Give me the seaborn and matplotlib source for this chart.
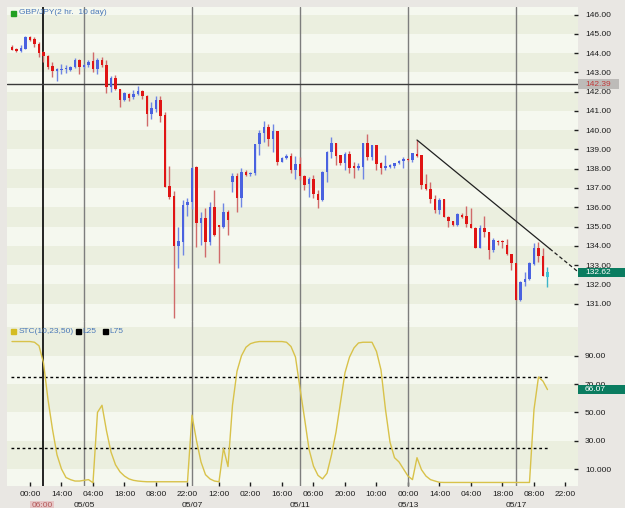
import numpy as np
import pandas as pd
import matplotlib
matplotlib.use("Agg")
import matplotlib.pyplot as plt
import matplotlib.transforms as mtransforms
from matplotlib.patches import Rectangle
import seaborn as sns

# GBP/JPY 2 hr bars, 10 days
opens = [144.31, 144.19, 144.11, 144.21, 144.85, 144.73, 144.49, 144.04, 143.86, 143.33,
         143.09, 143.12, 143.15, 143.12, 143.26, 143.66, 143.28, 143.37, 143.59, 143.17,
         143.66, 143.38, 142.26, 142.69, 142.12, 141.55, 141.89, 141.70, 141.86, 142.03,
         141.79, 140.82, 141.10, 141.57, 140.79, 137.12, 136.59, 134.00, 134.22, 136.12,
         136.26, 138.07, 135.17, 135.43, 134.22, 136.00, 135.08, 134.99, 135.77, 137.33,
         137.62, 136.47, 137.85, 137.73, 137.76, 139.27, 139.84, 140.18, 139.54, 139.96,
         138.37, 138.54, 138.68, 137.93, 138.23, 137.64, 137.19, 137.47, 136.67, 136.38,
         137.82, 138.85, 139.32, 138.71, 138.28, 138.75, 138.14, 138.02, 138.11, 139.32,
         138.62, 139.23, 138.28, 138.02, 138.11, 138.16, 138.28, 138.40, 138.50, 138.45,
         138.76, 138.71, 137.19, 136.95, 136.43, 135.86, 136.43, 135.51, 135.29, 135.08,
         135.60, 135.56, 135.13, 134.94, 133.90, 134.94, 134.70, 133.79, 134.27, 134.27,
         134.04, 133.56, 133.10, 131.19, 132.11, 132.28, 133.04, 133.90, 133.49, 132.40]
highs = [144.42, 144.25, 144.42, 144.88, 144.90, 144.82, 144.59, 144.10, 143.90, 143.52,
         143.24, 143.42, 143.40, 143.35, 143.72, 143.70, 143.42, 143.62, 144.04, 143.72,
         143.78, 143.64, 142.81, 142.85, 142.15, 142.00, 141.92, 142.10, 142.29, 142.08,
         141.82, 141.46, 141.75, 141.75, 140.92, 138.16, 136.85, 135.00, 136.38, 136.48,
         138.10, 138.15, 135.77, 135.95, 136.29, 136.90, 135.10, 136.24, 135.86, 137.76,
         137.76, 138.02, 137.93, 137.85, 139.30, 140.01, 140.48, 140.30, 140.30, 139.98,
         138.62, 138.75, 138.80, 138.68, 138.62, 137.66, 137.59, 137.67, 136.90, 137.90,
         138.92, 139.66, 139.35, 138.73, 138.88, 138.92, 138.37, 138.28, 139.35, 139.79,
         139.25, 139.25, 138.37, 138.71, 138.25, 138.30, 138.45, 138.62, 138.55, 138.82,
         139.49, 138.73, 137.71, 137.33, 136.64, 136.47, 136.45, 135.56, 135.30, 135.69,
         135.69, 136.08, 135.95, 134.98, 135.08, 135.56, 134.72, 134.39, 134.30, 134.30,
         134.36, 133.58, 133.12, 132.20, 132.66, 133.18, 134.13, 134.22, 133.90, 132.92]
lows = [144.14, 144.04, 144.04, 144.19, 144.62, 144.31, 143.78, 143.55, 143.16, 142.77,
        142.57, 142.91, 142.96, 143.05, 143.20, 142.90, 143.25, 143.26, 143.02, 142.91,
        143.28, 141.91, 142.00, 142.06, 141.20, 141.50, 141.50, 141.60, 141.82, 141.60,
        140.23, 140.58, 140.95, 140.41, 137.05, 136.43, 130.24, 132.84, 133.53, 135.57,
        135.90, 133.96, 134.04, 133.44, 134.04, 134.50, 133.10, 134.95, 134.56, 136.81,
        135.77, 136.00, 137.60, 137.60, 137.70, 138.71, 139.37, 139.20, 138.85, 138.19,
        138.33, 138.50, 137.76, 137.47, 137.42, 136.90, 136.55, 136.47, 135.95, 136.30,
        137.33, 138.57, 138.19, 138.19, 137.93, 137.76, 137.50, 137.93, 137.47, 138.45,
        138.45, 137.93, 137.71, 137.93, 138.05, 138.02, 138.23, 138.05, 138.40, 138.37,
        138.62, 136.95, 136.90, 136.21, 135.69, 135.64, 135.50, 134.99, 135.05, 135.05,
        135.43, 134.99, 134.92, 133.87, 133.87, 134.48, 133.32, 133.70, 134.05, 133.87,
        133.53, 132.75, 131.19, 131.15, 131.93, 132.23, 133.01, 133.18, 132.45, 131.88]
closes = [144.17, 144.11, 144.25, 144.85, 144.68, 144.49, 144.00, 143.86, 143.29, 143.07,
          143.18, 143.17, 143.22, 143.29, 143.66, 143.28, 143.38, 143.55, 143.17, 143.66,
          143.38, 142.26, 142.72, 142.12, 141.55, 141.91, 141.68, 141.89, 142.03, 141.79,
          140.82, 141.13, 141.57, 140.75, 137.07, 136.55, 134.00, 134.25, 136.12, 136.26,
          138.05, 135.17, 135.43, 134.22, 136.00, 134.56, 134.99, 135.77, 135.34, 137.62,
          136.47, 137.85, 137.68, 137.77, 139.27, 139.84, 140.18, 139.54, 139.96, 138.33,
          138.57, 138.68, 137.93, 138.23, 137.64, 137.16, 137.47, 136.67, 136.38, 137.82,
          138.85, 139.32, 138.68, 138.28, 138.75, 138.02, 138.02, 138.16, 139.32, 138.62,
          139.23, 138.23, 138.02, 138.16, 138.19, 138.28, 138.40, 138.49, 138.44, 138.80,
          138.68, 137.16, 136.95, 136.43, 135.86, 136.38, 135.51, 135.29, 135.08, 135.64,
          135.51, 135.12, 134.94, 133.90, 134.94, 134.70, 133.79, 134.30, 134.18, 134.18,
          133.56, 133.10, 131.19, 132.14, 132.28, 133.10, 133.90, 133.49, 132.45, 132.62]

# STC(10,23,50) oscillator
stc = [100, 100, 100, 100, 100, 99.5, 97, 85, 59, 38,
       20, 10, 4, 2.5, 1.5, 1.5, 2, 2.5, 0.3, 50,
       55, 37, 22, 13, 8, 5, 3, 2, 1.5, 1.2,
       1, 1, 1, 1, 1, 1, 1, 1, 1, 1,
       48, 30, 15, 6, 3, 1.5, 1, 24.6, 11.7, 55,
       79, 90, 96, 98.5, 99.5, 100, 100, 100, 100, 100,
       100, 99.5, 96.5, 89, 67, 46, 24, 12, 5.5, 3,
       7, 20, 36, 57, 78, 89, 95.5, 99, 99.5, 99.5,
       99.5, 93, 80, 52, 29, 18, 15, 10, 5, 2.5,
       18, 9.5, 5, 2.5, 1.5, 0.6, 0.5, 0.5, 0.5, 0.5,
       0.5, 0.5, 0.5, 0.5, 0.5, 0.5, 0.5, 0.5, 0.5, 0.5,
       0.5, 0.5, 0.5, 0.5, 0.5, 0.5, 52, 75, 72, 66.07]

time_labels = ["00:00", "14:00", "04:00", "18:00", "08:00", "22:00", "12:00", "02:00", "16:00",
               "06:00", "20:00", "10:00", "00:00", "14:00", "04:00", "18:00", "08:00", "22:00"]
date_labels = ["05/05", "05/07", "05/11", "05/13", "05/17"]
price_ticks = list(range(131, 147))
stc_ticks = [10, 30, 50, 70, 90]
stc_tick_labels = ["10.000", "30.00", "50.00", "70.00", "90.00"]

cursor_bar = 7
cursor_label = "06:00"
cursor_price = 142.39
last_price = 132.62
last_stc = 66.07
trend_x = [90, 119.5, 125.8]
trend_y = [139.49, 133.85, 132.65]

sns.set_style("white")
plt.rcParams["font.family"] = ["Liberation Sans", "DejaVu Sans"]

BG = "#e9e7e3"
LIGHT = "#f5f8ef"
DARK = "#ebefdf"
TXT = "#1e1e1e"
LEG = "#4a78b8"

fig = plt.figure(figsize=(6.25, 5.08), dpi=100, facecolor=BG)
ax1 = fig.add_axes([7 / 625, 1 - 321 / 508, 571 / 625, 314 / 508])
ax2 = fig.add_axes([7 / 625, 1 - 486 / 508, 571 / 625, 165 / 508], sharex=ax1)

n = len(opens)
idx = np.arange(n)
o, h, l, c = (np.array(a) for a in (opens, highs, lows, closes))

for ax in (ax1, ax2):
    ax.set_facecolor(LIGHT)
    for s in ax.spines.values():
        s.set_visible(False)

# background bands
for k in range(130, 147):
    ax1.axhspan(k, k + 1, color=DARK if k % 2 else LIGHT, lw=0, zorder=0)
for v in (10, 50, 90):
    ax2.axhspan(v, v + 20, color=DARK, lw=0, zorder=0)

# day separators and cursor
for k in range(len(date_labels)):
    for ax in (ax1, ax2):
        ax.axvline(16 + 24 * k, color="#7d7d7d", lw=1, zorder=1)
for ax in (ax1, ax2):
    ax.axvline(cursor_bar, color="black", lw=1.2, zorder=1)
ax1.axhline(cursor_price, color="#3a3a3a", lw=1, zorder=1)

# candles
up = c > o
body_col = np.where(up, "#4a62e0", "#e01414")
wick_col = np.where(up, "#6f86e4", "#d06a6a")
body_col[-1] = "#3cc4d8"
wick_col[-1] = "#3cb4c8"
ax1.vlines(idx, l, h, colors=wick_col, lw=1, zorder=3)
ax1.bar(idx, np.maximum(np.abs(c - o), 0.06), bottom=np.minimum(o, c), width=0.66,
        color=body_col, lw=0, zorder=4)

# trend line
ax1.plot(trend_x[:2], trend_y[:2], color="#202020", lw=0.9, zorder=5)
ax1.plot(trend_x[1:], trend_y[1:], color="#202020", lw=0.9, ls=(0, (3, 2)), zorder=5)

# STC panel
stc_df = pd.DataFrame({"bar": idx, "stc": stc})
sns.lineplot(data=stc_df, x="bar", y="stc", ax=ax2, color="#d8c24a", lw=1, zorder=4)
for lvl in (25, 75):
    ax2.hlines(lvl, -0.2, 119.2, colors="black", lw=1, linestyles=(0, (2, 2)), zorder=3)

ax1.set_xlim(-1.11, 125.78)
ax1.set_ylim(130.1, 146.39)
ax2.set_ylim(-2, 114.5)

ax1.yaxis.tick_right()
ax1.set_yticks(price_ticks)
ax1.set_yticklabels([f"{v:.2f}" for v in price_ticks])
ax2.yaxis.tick_right()
ax2.set_yticks(stc_ticks)
ax2.set_yticklabels(stc_tick_labels)
for ax in (ax1, ax2):
    ax.tick_params(axis="y", direction="in", length=3, width=1, pad=5,
                   labelsize=6, colors=TXT, right=True, left=False)
ax1.tick_params(axis="x", bottom=False, labelbottom=False)
ax2.set_xticks([4 + 7 * k for k in range(len(time_labels))])
ax2.set_xticklabels(time_labels)
ax2.tick_params(axis="x", direction="in", length=3, width=1, pad=3.5,
                labelsize=6, colors=TXT, bottom=True)
ax2.set_xlabel("")
ax2.set_ylabel("")

for k, lab in enumerate(date_labels):
    ax2.annotate(lab, xy=(16 + 24 * k, 0), xycoords=("data", "axes fraction"),
                 xytext=(0, -14), textcoords="offset points", ha="center", va="center",
                 fontsize=6, color=TXT, annotation_clip=False)
ax2.annotate(cursor_label, xy=(cursor_bar, 0), xycoords=("data", "axes fraction"),
             xytext=(-1, -14), textcoords="offset points", ha="center", va="center",
             fontsize=6, color="#b45a5a", annotation_clip=False,
             bbox=dict(boxstyle="square,pad=0.15", fc="#e6c6c6", ec="none"))

# right-hand price tags
def tag(ax, value, half, face, tcol, width):
    tr = mtransforms.blended_transform_factory(ax.transAxes, ax.transData)
    ax.add_patch(Rectangle((1.0, value - half), width, 2 * half, transform=tr,
                           fc=face, ec="none", clip_on=False, zorder=6))
    ax.text(1.012, value, f"{value:.2f}", transform=tr, ha="left", va="center",
            fontsize=6, color=tcol, clip_on=False, zorder=7)

tag(ax1, last_price, 0.24, "#0a7c60", "white", 0.083)
tag(ax1, cursor_price, 0.26, "#bdbbb8", "#c03a3a", 0.072)
tag(ax2, last_stc, 3.2, "#0a7c60", "white", 0.083)

# legends
ax1.plot([0.0098], [0.982], marker="s", ms=3.6, color="#22a022", transform=ax1.transAxes,
         clip_on=False, zorder=8)
ax1.text(0.021, 0.982, "GBP/JPY(2 hr.  10 day)", transform=ax1.transAxes, ha="left",
         va="center", fontsize=6, color=LEG, zorder=8)
ax2.plot([0.0098], [0.939], marker="s", ms=3.6, color="#d4bc22", transform=ax2.transAxes,
         clip_on=False, zorder=8)
ax2.text(0.021, 0.939, "STC(10,23,50)", transform=ax2.transAxes, ha="left",
         va="center", fontsize=6, color=LEG, zorder=8)
for xpix, lab in ((78, "L25"), (105, "L75")):
    xa = (xpix - 7) / 571
    ax2.plot([xa], [0.939], marker="s", ms=3.6, color="black", transform=ax2.transAxes,
             clip_on=False, zorder=8)
    ax2.text(xa + 0.008, 0.939, lab, transform=ax2.transAxes, ha="left",
             va="center", fontsize=6, color=LEG, zorder=8)

fig.savefig("out.png", dpi=100, facecolor=BG)
